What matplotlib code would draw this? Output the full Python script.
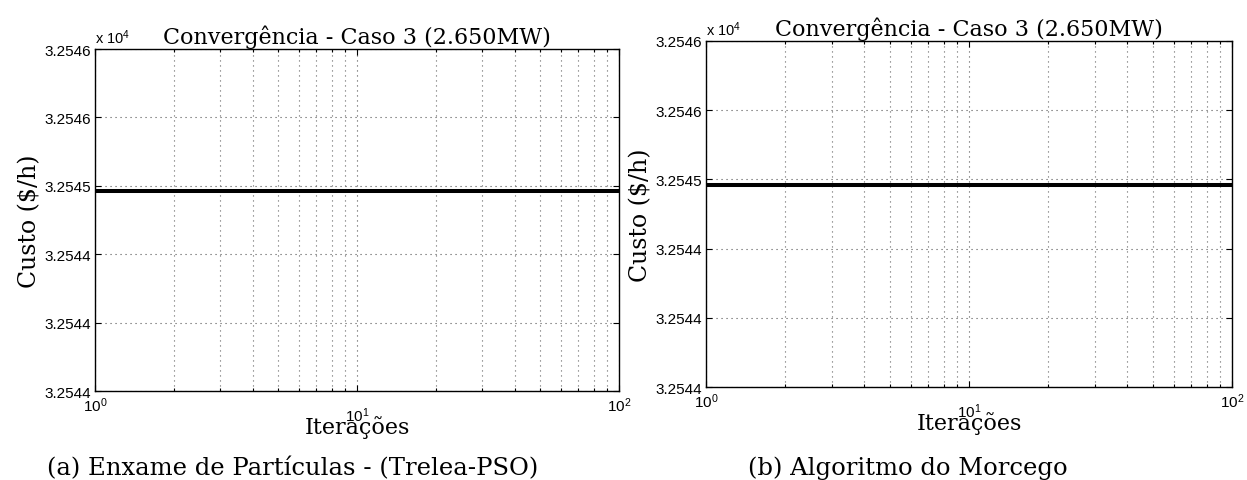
import matplotlib
matplotlib.use("Agg")
import matplotlib.pyplot as plt
from matplotlib.ticker import LogLocator, NullFormatter, FixedLocator

plt.rcParams['font.family'] = ['Liberation Sans', 'DejaVu Sans']
plt.rcParams['mathtext.fontset'] = 'custom'
plt.rcParams['mathtext.rm'] = 'Liberation Sans'
plt.rcParams['mathtext.default'] = 'regular'

# data (both runs stay flat)
iteracoes = [1, 100]
custo_pso = [32544.96, 32544.96]
custo_bat = [32544.96, 32544.96]

y_ticks = [32543.5, 32544.0, 32544.5, 32545.0, 32545.5, 32546.0]
y_labels = ["3.2544", "3.2544", "3.2544", "3.2545", "3.2546", "3.2546"]
x_ticks = [1, 10, 100]
x_labels = ["$10^{0}$", "$10^{1}$", "$10^{2}$"]

titulo = "Convergência - Caso 3 (2.650MW)"
legendas = ["(a) Enxame de Partículas - (Trelea-PSO)", "(b) Algoritmo do Morcego"]

serif = ['DejaVu Serif']
pontilhado = (0, (1, 3.5))

fig = plt.figure(figsize=(12.47, 4.81), dpi=100)
ax1 = fig.add_axes([0.0762, 0.185, 0.4202, 0.711])
ax2 = fig.add_axes([0.5662, 0.1933, 0.4218, 0.7194])

for ax, custo in ((ax1, custo_pso), (ax2, custo_bat)):
    ax.plot(iteracoes, custo, color='black', lw=2.9, zorder=3)
    ax.set_xscale('log')
    ax.set_xlim(1, 100)
    ax.set_ylim(y_ticks[0], y_ticks[-1])
    ax.yaxis.set_major_locator(FixedLocator(y_ticks))
    ax.set_yticklabels(y_labels)
    ax.set_xticks(x_ticks)
    ax.set_xticklabels(x_labels)
    ax.xaxis.set_minor_locator(LogLocator(base=10, subs=range(2, 10)))
    ax.xaxis.set_minor_formatter(NullFormatter())
    ax.tick_params(which='both', direction='in', top=True, right=True,
                   labelsize=11, width=0.8)
    ax.tick_params(which='major', length=4)
    ax.tick_params(which='minor', length=2.5)
    ax.tick_params(axis='y', pad=3)
    ax.tick_params(axis='x', pad=3)
    # MATLAB drops the middle decade label a bit lower
    ax.xaxis.get_major_ticks()[1].set_pad(10)
    ax.grid(True, which='major', ls=pontilhado, color='#555555', lw=0.8)
    ax.grid(True, which='minor', axis='x', ls=pontilhado, color='#666666', lw=0.8)
    for s in ax.spines.values():
        s.set_linewidth(1.0)
    ax.set_title(titulo, fontsize=16, family=serif, pad=4)
    ax.set_xlabel("Iterações", fontsize=16, family=serif, labelpad=-6)
    ax.set_ylabel(r"Custo (\$/h)", fontsize=17, family=serif, labelpad=2)
    ax.text(0.0, 1.008, r"x $10^{4}$", transform=ax.transAxes, fontsize=10.5,
            ha='left', va='bottom')

fig.text(0.235, 0.012, legendas[0], fontsize=17.5, family=serif, ha='center', va='baseline')
fig.text(0.728, 0.012, legendas[1], fontsize=17.5, family=serif, ha='center', va='baseline')

fig.savefig("out.png", dpi=100)
